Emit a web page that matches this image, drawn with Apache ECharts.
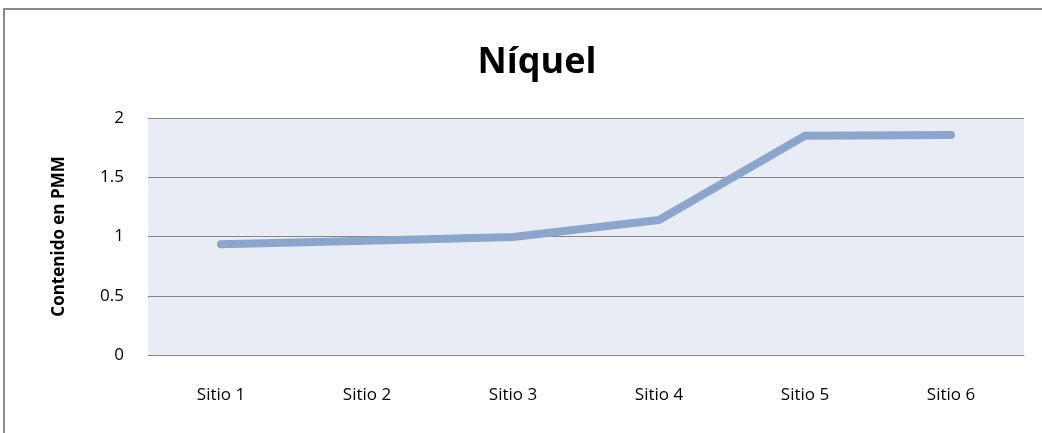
<!DOCTYPE html>
<html><head><meta charset="utf-8">
<script src="https://cdn.jsdelivr.net/npm/echarts@6/dist/echarts.min.js"></script>
<style>html,body{margin:0;padding:0;background:#fff}#c{width:1042px;height:433px}</style>
</head><body><div id="c"></div>
<script>
const categories = ['Sitio 1','Sitio 2','Sitio 3','Sitio 4','Sitio 5','Sitio 6'];
const niquel = [0.935, 0.965, 0.995, 1.14, 1.85, 1.857];
const yTicks = [0, 0.5, 1, 1.5, 2];
const FONT = "'Liberation Sans Narrow','Open Sans',sans-serif";
const chart = echarts.init(document.getElementById('c'));
chart.setOption({
  animation:false,
  title:{text:'Níquel',left:532,top:40,textAlign:'center',
    textStyle:{fontFamily:FONT,fontSize:36,fontWeight:'bold',color:'#000'}},
  graphic:[{type:'rect',shape:{x:4,y:9,width:1100,height:600},
    style:{fill:'none',stroke:'#8a8a8a',lineWidth:2},silent:true}],
  grid:{left:148,right:18,top:118,bottom:78,show:true,backgroundColor:'#E8EDF5',borderWidth:0},
  xAxis:{type:'category',data:categories,boundaryGap:true,
    axisLine:{show:true,lineStyle:{color:'#868686',width:1}},
    axisTick:{show:false},
    axisLabel:{margin:32,fontFamily:FONT,fontSize:17,color:'#000'}},
  yAxis:{type:'value',min:0,max:2,interval:0.5,
    name:'Contenido en PMM',nameLocation:'middle',nameGap:80,nameRotate:90,
    nameTextStyle:{fontFamily:FONT,fontSize:17,fontWeight:'bold',color:'#000'},
    axisLine:{show:false},axisTick:{show:false},
    splitLine:{show:true,lineStyle:{color:'#868686',width:1}},
    axisLabel:{margin:24,fontFamily:FONT,fontSize:17,color:'#000',
      formatter:v=>yTicks.includes(v)?String(v):''}},
  series:[{type:'line',data:niquel,symbol:'none',
    lineStyle:{color:'#8CA5CC',width:8,cap:'round',join:'round'}}]
});
</script></body></html>
